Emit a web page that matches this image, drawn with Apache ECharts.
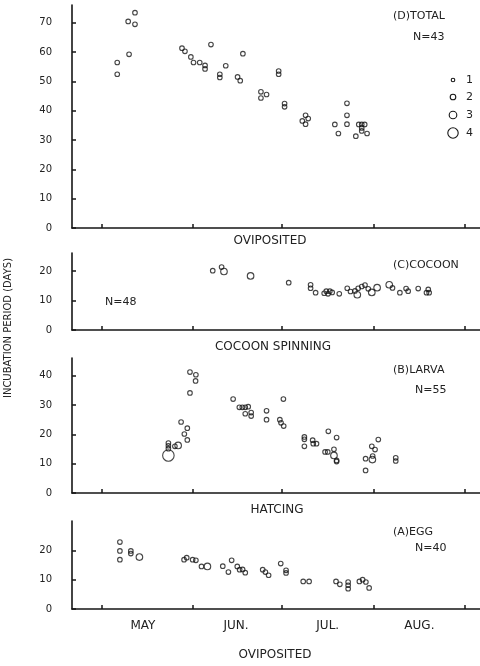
<!DOCTYPE html>
<html>
<head>
<meta charset="utf-8">
<script src="https://cdn.jsdelivr.net/npm/echarts@6/dist/echarts.min.js"></script>
<style>
html,body{margin:0;padding:0;background:#fff;}
#chart{width:480px;height:666px;}
</style>
</head>
<body>
<div id="chart"></div>
<script>
// x = days after 1 May (oviposition date); y = incubation period (days); n = number of observations
var totalX = [5.3,5.3,9.3,9.0,11.3,11.3,27.2,28.2,30.2,31.1,33.2,35.0,35.0,37.0,40.0,40.0,42.0,46.0,46.9,47.8,53.9,53.9,55.8,59.9,59.9,61.9,61.9,67.9,69.0,69.0,69.9,78.9,80.1,83.0,83.0,83.0,86.0,87.0,88.0,88.0,88.0,89.0,89.8];
var totalY = [56.4,52.4,59.2,70.4,69.4,73.4,61.3,60.2,58.3,56.4,56.4,55.4,54.2,62.5,52.4,51.3,55.3,51.5,50.2,59.4,46.4,44.3,45.5,53.5,52.4,42.4,41.3,36.5,38.4,35.4,37.3,35.3,32.2,42.5,38.4,35.4,31.3,35.3,35.3,34.1,33.1,35.3,32.2];
var totalN = [1,1,1,1,1,1,1,1,1,1,1,1,1,1,1,1,1,1,1,1,1,1,1,1,1,1,1,1,1,1,1,1,1,1,1,1,1,1,1,1,1,1,1];

var cocoonX = [37.6,40.6,41.4,50.4,63.3,70.7,70.7,72.4,75.3,76.0,76.6,77.2,78.0,80.4,83.1,84.2,85.7,86.5,86.8,88.0,89.1,90.2,91.4,93.2,97.3,98.4,100.9,103.0,103.7,107.1,109.9,110.5,110.8];
var cocoonY = [20.2,21.4,19.9,18.4,16.1,15.4,14.2,12.7,12.5,13.2,12.3,13.2,12.8,12.3,14.2,13.1,13.3,12.0,14.2,14.8,15.3,14.0,12.8,14.4,15.4,14.3,12.7,14.1,13.2,14.1,12.7,13.8,12.7];
var cocoonN = [1,1,2,2,1,1,1,1,1,1,1,1,1,1,1,1,1,2,1,1,1,1,2,2,2,1,1,1,1,1,1,1,1];

var larvaX = [29.9,31.9,31.8,29.9,26.9,29.0,28.0,29.0,22.6,22.6,22.6,24.8,25.9,22.6,44.5,46.6,47.6,48.6,49.6,48.6,50.6,50.6,55.8,55.8,61.5,60.3,60.7,61.6,68.6,68.6,68.6,71.4,71.6,72.7,76.7,79.5,75.6,76.5,78.6,78.6,79.5,79.5,93.6,91.4,92.5,91.7,89.3,91.6,89.3,99.5,99.5];
var larvaY = [41.2,40.3,38.2,34.1,24.2,22.1,20.1,18.1,17.0,16.1,15.1,15.9,16.2,12.8,32.0,29.2,29.2,29.2,29.4,27.0,27.4,26.2,28.0,25.0,32.0,25.0,23.9,22.8,19.1,18.3,15.9,18.0,16.8,16.8,21.0,18.9,14.0,14.0,14.9,12.8,11.1,10.7,18.2,15.9,14.8,12.6,11.7,11.4,7.7,12.0,10.9];
var larvaN = [1,1,1,1,1,1,1,1,1,1,1,1,2,4,1,1,1,1,1,1,1,1,1,1,1,1,1,1,1,1,1,1,1,1,1,1,1,1,1,2,1,1,1,1,1,1,1,2,1,1,1];

var eggX = [6.2,6.2,6.2,9.9,9.9,12.8,27.9,28.8,30.8,31.9,33.8,35.8,41.0,42.9,44.0,45.9,46.7,47.7,48.6,54.5,55.4,56.5,60.6,62.4,62.4,68.2,70.2,79.3,80.6,83.4,83.4,83.4,87.2,88.3,89.4,90.5];
var eggY = [22.8,19.8,16.8,19.8,18.9,17.7,16.8,17.5,16.8,16.6,14.5,14.5,14.6,12.6,16.6,14.5,13.4,13.5,12.4,13.4,12.6,11.5,15.5,13.2,12.3,9.4,9.4,9.4,8.4,9.2,8.1,6.9,9.4,10.0,9.2,7.2];
var eggN = [1,1,1,1,1,2,1,1,1,1,1,2,1,1,1,1,1,1,1,1,1,1,1,1,1,1,1,1,1,1,1,1,1,1,1,1];

var monthTicks = [0,31,61,92,123];
var monthLabelPos = [14,45.5,76.5,107.5];
var monthLabels = ['MAY','JUN.','JUL.','AUG.'];
var legendCounts = [1,2,3,4];

var totalTicks = [0,10,20,30,40,50,60,70];
var cocoonTicks = [0,10,20];
var larvaTicks = [0,10,20,30,40];
var eggTicks = [0,10,20];

var sizeMap = {1:4.6, 2:6.6, 3:8.6, 4:11.5};
var INK = '#161616';
var FONT = 'DejaVu Sans, Liberation Sans, sans-serif';

function pts(xs, ys, ns){ return xs.map(function(x,i){ return [x, ys[i], ns[i]]; }); }

var grids = [
  {left:72, right:0, top:5, height:223},
  {left:72, right:0, top:253, height:77},
  {left:72, right:0, top:358, height:135},
  {left:72, right:0, top:521, height:88}
];
var yMax = [76, 26.2, 46, 30];
var yTicks = [totalTicks, cocoonTicks, larvaTicks, eggTicks];

var xAxes = grids.map(function(g, i){
  return {
    type:'value', gridIndex:i, min:-10, max:128,
    splitLine:{show:false},
    axisLine:{show:true, onZero:false, lineStyle:{color:INK, width:1.6}},
    axisTick:{show:true, inside:true, length:4, customValues:monthTicks, lineStyle:{color:INK, width:1.5}},
    axisLabel:{show:i===3, customValues:monthLabelPos, margin:11, color:'#222', fontFamily:FONT, fontSize:12,
      formatter:function(v){ var k = monthLabelPos.indexOf(v); return k>=0 ? monthLabels[k] : ''; }}
  };
});
var yAxes = grids.map(function(g, i){
  return {
    type:'value', gridIndex:i, min:0, max:yMax[i],
    splitLine:{show:false},
    axisLine:{show:true, onZero:false, lineStyle:{color:INK, width:1.6}},
    axisTick:{show:true, inside:true, length:4, customValues:yTicks[i], lineStyle:{color:INK, width:1.5}},
    axisLabel:{show:true, customValues:yTicks[i], margin:20, color:'#222', fontFamily:FONT, fontSize:10,
      formatter:function(v){ return String(v); }}
  };
});

var allData = [pts(totalX,totalY,totalN), pts(cocoonX,cocoonY,cocoonN), pts(larvaX,larvaY,larvaN), pts(eggX,eggY,eggN)];
var series = allData.map(function(d, i){
  return {
    type:'scatter', xAxisIndex:i, yAxisIndex:i, data:d, symbol:'circle',
    symbolSize:function(v){ return sizeMap[v[2]]; },
    itemStyle:{color:'rgba(255,255,255,0)', borderColor:INK, borderWidth:1.1},
    emphasis:{disabled:true}
  };
});

function txt(t, x, y, size, align){
  return {type:'text', x:x, y:y, silent:true, z:100,
    style:{text:t, fill:'#222', font:size+'px '+FONT, textAlign:align||'left', textVerticalAlign:'middle', align:align||'left', verticalAlign:'middle'}};
}

var graphics = [
  txt('(D)TOTAL', 393, 16, 11), txt('N=43', 413, 37, 11),
  txt('OVIPOSITED', 270, 241, 12, 'center'),
  txt('(C)COCOON', 393, 265, 11), txt('N=48', 105, 302, 11),
  txt('COCOON SPINNING', 273, 347, 12, 'center'),
  txt('(B)LARVA', 393, 370, 11), txt('N=55', 415, 390, 11),
  txt('HATCING', 277, 510, 12, 'center'),
  txt('(A)EGG', 393, 532, 11), txt('N=40', 415, 548, 11),
  txt('OVIPOSITED', 275, 655, 12, 'center'),
  {type:'text', x:8, y:328, rotation:Math.PI/2, silent:true,
    style:{text:'INCUBATION PERIOD (DAYS)', fill:'#222', font:'10px '+FONT, textAlign:'center', textVerticalAlign:'middle', align:'center', verticalAlign:'middle'}}
];
var legendY = [80, 97, 115, 133];
var legendR = [1.8, 2.8, 3.8, 5.2];
legendCounts.forEach(function(c, k){
  graphics.push({type:'circle', silent:true, shape:{cx:453, cy:legendY[k], r:legendR[k]}, style:{fill:'none', stroke:INK, lineWidth:1.1}});
  graphics.push(txt(String(c), 466, legendY[k], 11));
});

var chart = echarts.init(document.getElementById('chart'), null, {renderer:'canvas'});
chart.setOption({
  animation:false,
  backgroundColor:'#fff',
  grid:grids,
  xAxis:xAxes,
  yAxis:yAxes,
  series:series,
  graphic:graphics
});
</script>
</body>
</html>
